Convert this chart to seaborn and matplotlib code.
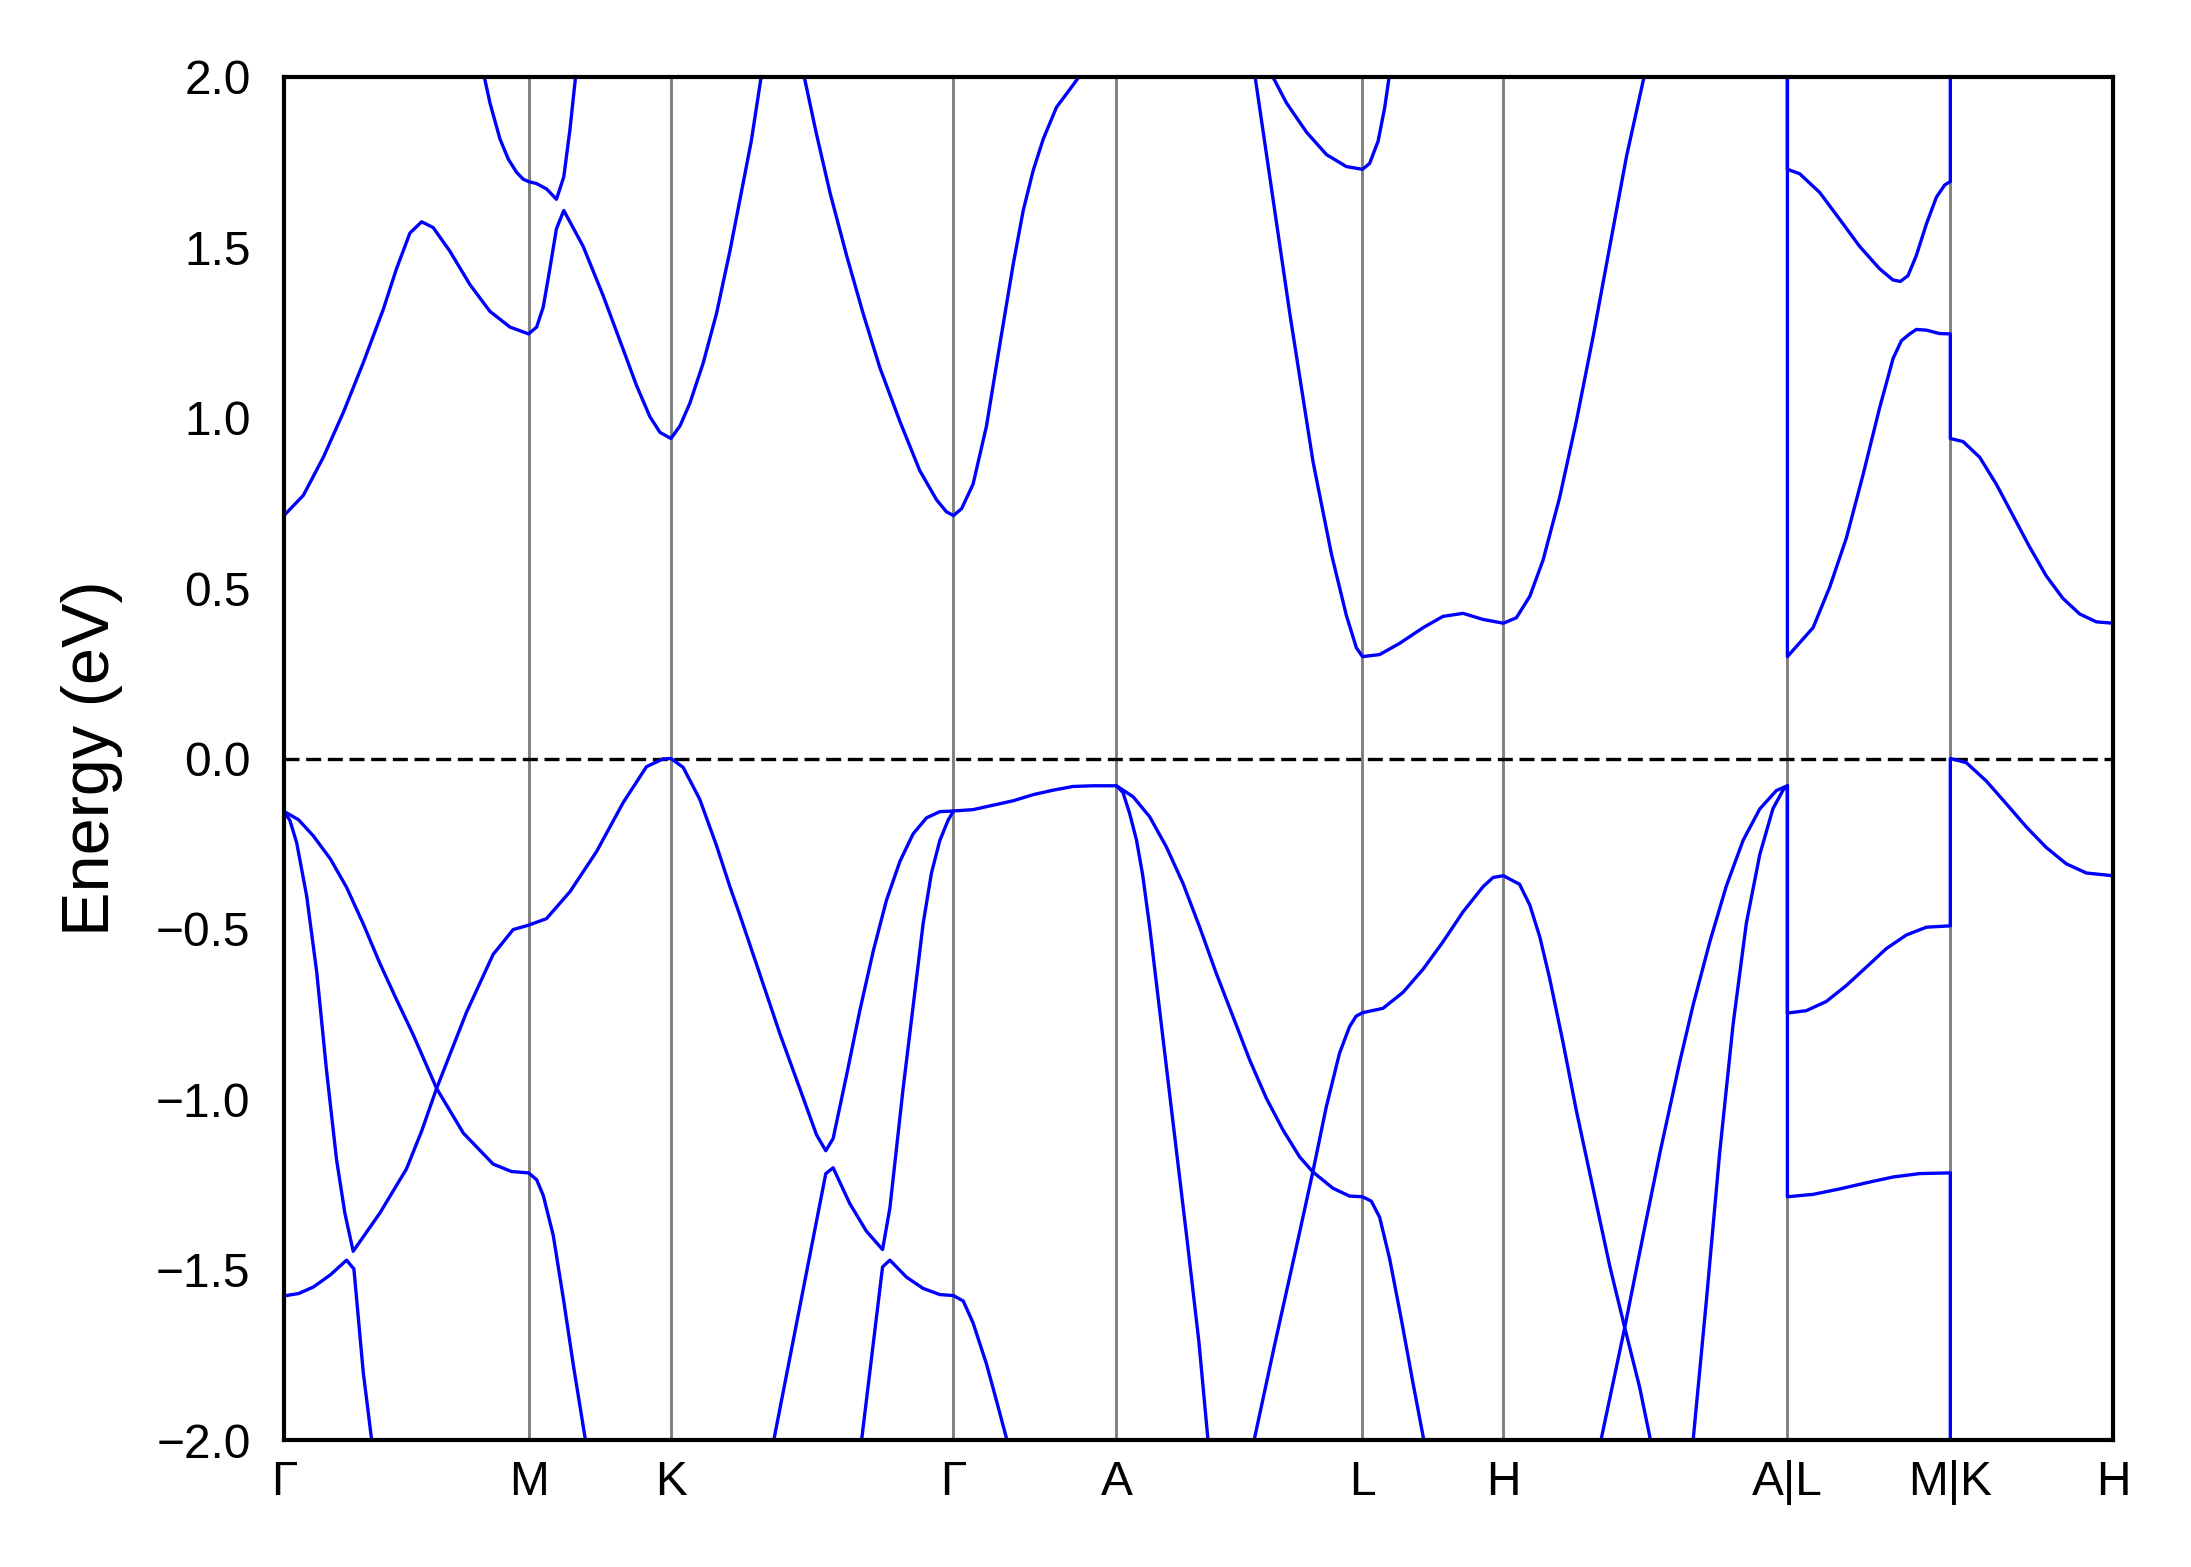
import pandas as pd
import matplotlib
matplotlib.use("Agg")
import matplotlib.pyplot as plt
import seaborn as sns

# high-symmetry points along the path
tick_k = [0.0, 1.0, 1.582, 2.737, 3.403, 4.409, 4.985, 6.146, 6.812, 7.477]
tick_labels = ["Γ", "M", "K", "Γ", "A", "L", "H", "A|L", "M|K", "H"]

# conduction bands
cb1_k = [0.0, 0.079, 0.161, 0.243, 0.324, 0.406, 0.460, 0.515, 0.563, 0.610, 0.678, 0.760, 0.842, 0.924, 1.0,
         1.033, 1.060, 1.087, 1.114, 1.144, 1.223, 1.305, 1.387, 1.441, 1.496, 1.537, 1.582,
         1.619, 1.659, 1.714, 1.768, 1.823, 1.864, 1.910, 1.955]
cb1_e = [0.713, 0.772, 0.884, 1.016, 1.161, 1.318, 1.437, 1.542, 1.575, 1.558, 1.489, 1.391, 1.312, 1.266, 1.246,
         1.266, 1.325, 1.437, 1.555, 1.608, 1.503, 1.358, 1.200, 1.095, 1.003, 0.957, 0.939,
         0.976, 1.042, 1.161, 1.305, 1.489, 1.640, 1.810, 2.02]

cb2_k = [0.813, 0.842, 0.883, 0.917, 0.951, 0.978, 1.0, 1.033, 1.074, 1.114, 1.144, 1.169, 1.195]
cb2_e = [2.02, 1.924, 1.818, 1.759, 1.720, 1.700, 1.693, 1.687, 1.671, 1.641, 1.707, 1.845, 2.02]

cb3_k = [2.121, 2.177, 2.232, 2.300, 2.368, 2.436, 2.518, 2.599, 2.668, 2.708, 2.737,
         2.770, 2.817, 2.872, 2.926, 2.981, 3.022, 3.063, 3.104, 3.158, 3.212, 3.270]
cb3_e = [2.02, 1.832, 1.661, 1.476, 1.305, 1.147, 0.989, 0.845, 0.759, 0.724, 0.713,
         0.733, 0.805, 0.976, 1.213, 1.450, 1.608, 1.726, 1.818, 1.911, 1.963, 2.02]

cb4_k = [3.966, 4.043, 4.112, 4.207, 4.282, 4.343, 4.384, 4.409, 4.479, 4.561, 4.657, 4.738, 4.820, 4.902, 4.985,
         5.038, 5.093, 5.147, 5.215, 5.283, 5.352, 5.420, 5.488, 5.566]
cb4_e = [2.02, 1.643, 1.305, 0.870, 0.600, 0.420, 0.325, 0.299, 0.305, 0.338, 0.384, 0.417, 0.426, 0.408, 0.397,
         0.413, 0.476, 0.582, 0.766, 0.989, 1.239, 1.503, 1.766, 2.02]

cb5_k = [4.028, 4.098, 4.180, 4.262, 4.343, 4.409, 4.438, 4.473, 4.500, 4.522]
cb5_e = [2.02, 1.924, 1.838, 1.772, 1.737, 1.729, 1.746, 1.812, 1.911, 2.02]

cb6_k = [6.146, 6.146, 6.251, 6.319, 6.387, 6.455, 6.523, 6.578, 6.612, 6.646, 6.673, 6.714, 6.768, 6.812,
         6.812, 6.864, 6.932, 7.000, 7.068, 7.136, 7.204, 7.272, 7.341, 7.409, 7.477]
cb6_e = [2.5, 0.299, 0.384, 0.503, 0.647, 0.832, 1.029, 1.174, 1.226, 1.246, 1.259, 1.257, 1.247, 1.246,
         0.939, 0.930, 0.884, 0.805, 0.713, 0.621, 0.536, 0.470, 0.424, 0.401, 0.397]

cb7_k = [6.146, 6.146, 6.196, 6.278, 6.360, 6.441, 6.523, 6.578, 6.608, 6.639, 6.673, 6.714, 6.755, 6.789, 6.812, 6.812]
cb7_e = [2.5, 1.729, 1.716, 1.661, 1.582, 1.503, 1.437, 1.404, 1.400, 1.417, 1.476, 1.568, 1.647, 1.683, 1.693, 2.5]

# valence bands
vb1_k = [0.0, 0.060, 0.120, 0.190, 0.256, 0.324, 0.392, 0.460, 0.528, 0.624, 0.733, 0.855, 0.930, 1.0,
         1.033, 1.060, 1.101, 1.142, 1.183, 1.237]
vb1_e = [-0.155, -0.180, -0.227, -0.295, -0.378, -0.485, -0.601, -0.707, -0.810, -0.968, -1.099, -1.190, -1.212, -1.216,
         -1.236, -1.282, -1.400, -1.584, -1.780, -2.02]

vb2_k = [0.0, 0.0245, 0.052, 0.093, 0.134, 0.174, 0.215, 0.249, 0.283,
         0.392, 0.501, 0.562, 0.624, 0.746, 0.855, 0.937, 1.0,
         1.073, 1.169, 1.278, 1.387, 1.482, 1.550, 1.582,
         1.632, 1.700, 1.768, 1.823, 1.864, 1.945, 2.027, 2.109, 2.177, 2.215,
         2.245, 2.300, 2.354, 2.409, 2.463, 2.518, 2.572, 2.627, 2.681, 2.737,
         2.817, 2.899, 2.981, 3.063, 3.144, 3.226, 3.308, 3.403,
         3.471, 3.539, 3.607, 3.675, 3.743, 3.811, 3.880, 3.948, 4.016, 4.084, 4.152, 4.206, 4.288, 4.356, 4.409,
         4.445, 4.479, 4.520, 4.567, 4.615, 4.665]
vb2_e = [-0.155, -0.182, -0.247, -0.404, -0.627, -0.915, -1.177, -1.334, -1.446,
         -1.334, -1.204, -1.095, -0.968, -0.745, -0.575, -0.502, -0.489,
         -0.470, -0.391, -0.273, -0.129, -0.024, -0.001, 0.0,
         -0.026, -0.120, -0.255, -0.376, -0.460, -0.632, -0.807, -0.969, -1.104, -1.151,
         -1.115, -0.929, -0.740, -0.565, -0.416, -0.302, -0.221, -0.174, -0.156, -0.154,
         -0.150, -0.137, -0.124, -0.106, -0.093, -0.082, -0.080, -0.080,
         -0.112, -0.171, -0.259, -0.366, -0.494, -0.630, -0.758, -0.885, -0.997, -1.090, -1.169, -1.213, -1.261, -1.284, -1.286,
         -1.299, -1.346, -1.468, -1.643, -1.831, -2.02]

vb3_k = [0.0, 0.060, 0.120, 0.190, 0.256, 0.286, 0.324, 0.362]
vb3_e = [-1.577, -1.570, -1.551, -1.515, -1.472, -1.498, -1.800, -2.02]

vb4_k = [1.997, 2.215, 2.245, 2.313, 2.381, 2.447, 2.477, 2.531, 2.572, 2.613, 2.647, 2.681, 2.715, 2.737]
vb4_e = [-2.02, -1.218, -1.201, -1.306, -1.387, -1.441, -1.319, -0.969, -0.727, -0.484, -0.336, -0.241, -0.181, -0.154]

vb5_k = [2.358, 2.447, 2.477, 2.545, 2.613, 2.681, 2.737, 2.777, 2.817, 2.872, 2.913, 2.963]
vb5_e = [-2.02, -1.492, -1.472, -1.522, -1.555, -1.573, -1.576, -1.592, -1.656, -1.777, -1.885, -2.02]

vb6_k = [3.403, 3.430, 3.457, 3.485, 3.510, 3.539, 3.580, 3.621, 3.662, 3.692, 3.740, 3.780]
vb6_e = [-0.080, -0.100, -0.161, -0.239, -0.340, -0.494, -0.740, -0.987, -1.233, -1.413, -1.710, -2.02]

vb7_k = [3.960, 4.050, 4.145, 4.206, 4.261, 4.315, 4.356, 4.383, 4.409,
         4.493, 4.575, 4.657, 4.738, 4.820, 4.902, 4.943, 4.985,
         5.051, 5.093, 5.134, 5.174, 5.229, 5.284, 5.351, 5.420, 5.481, 5.542, 5.592]
vb7_e = [-2.02, -1.720, -1.413, -1.213, -1.022, -0.865, -0.787, -0.756, -0.746,
         -0.733, -0.686, -0.618, -0.538, -0.450, -0.376, -0.349, -0.344,
         -0.369, -0.430, -0.524, -0.645, -0.834, -1.036, -1.260, -1.490, -1.670, -1.845, -2.02]

vb8_k = [5.378, 5.481, 5.556, 5.624, 5.706, 5.760, 5.828, 5.896, 5.965, 6.033, 6.101, 6.146]
vb8_e = [-2.02, -1.670, -1.400, -1.160, -0.890, -0.725, -0.540, -0.375, -0.240, -0.148, -0.094, -0.080]

vb9_k = [5.758, 5.815, 5.869, 5.924, 5.978, 6.033, 6.087, 6.128, 6.146]
vb9_e = [-2.02, -1.589, -1.158, -0.780, -0.484, -0.282, -0.147, -0.093, -0.080]

vb10_k = [6.146, 6.146, 6.223, 6.305, 6.387, 6.469, 6.550, 6.632, 6.714, 6.812,
          6.812, 6.877, 6.959, 7.041, 7.123, 7.204, 7.286, 7.368, 7.477]
vb10_e = [-0.080, -0.747, -0.740, -0.713, -0.666, -0.612, -0.558, -0.518, -0.495, -0.491,
          0.0, -0.012, -0.066, -0.133, -0.201, -0.261, -0.309, -0.336, -0.344]

vb11_k = [6.146, 6.146, 6.251, 6.360, 6.469, 6.578, 6.687, 6.812, 6.812]
vb11_e = [-0.080, -1.286, -1.279, -1.263, -1.245, -1.228, -1.218, -1.216, -2.5]

bands = [(cb1_k, cb1_e), (cb2_k, cb2_e), (cb3_k, cb3_e), (cb4_k, cb4_e), (cb5_k, cb5_e),
         (cb6_k, cb6_e), (cb7_k, cb7_e),
         (vb1_k, vb1_e), (vb2_k, vb2_e), (vb3_k, vb3_e), (vb4_k, vb4_e), (vb5_k, vb5_e),
         (vb6_k, vb6_e), (vb7_k, vb7_e), (vb8_k, vb8_e), (vb9_k, vb9_e), (vb10_k, vb10_e), (vb11_k, vb11_e)]

rows = []
for i, (ks, es) in enumerate(bands):
    for k, e in zip(ks, es):
        rows.append({"band": i, "k": k, "E": e})
df = pd.DataFrame(rows)

sns.set_style("white")
plt.rcParams["font.family"] = ["Liberation Sans", "DejaVu Sans"]
plt.rcParams.update({"text.color": "black", "axes.labelcolor": "black",
                     "xtick.color": "black", "ytick.color": "black"})

fig = plt.figure(figsize=(2191 / 300, 1567 / 300), dpi=300)
ax = fig.add_axes([0.1296, 0.0810, 0.8348, 0.8699])

# high-symmetry lines and Fermi level
for k in tick_k[1:-1]:
    ax.axvline(k, color="gray", lw=0.7, zorder=1)
ax.axhline(0, color="black", ls=(0, (4.5, 2)), lw=0.8, zorder=1)

sns.lineplot(data=df, x="k", y="E", units="band", estimator=None, sort=False,
             color="blue", lw=0.8, ax=ax, zorder=2, legend=False)

ax.set_xlim(tick_k[0], tick_k[-1])
ax.set_ylim(-2.0, 2.0)
ax.set_xticks(tick_k)
ax.set_xticklabels(tick_labels)
ax.set_yticks([-2.0, -1.5, -1.0, -0.5, 0.0, 0.5, 1.0, 1.5, 2.0])
ax.set_yticklabels(["−2.0", "−1.5", "−1.0", "−0.5", "0.0", "0.5", "1.0", "1.5", "2.0"])
ax.tick_params(axis="x", length=0, pad=4.8, labelsize=11.5)
ax.tick_params(axis="y", direction="in", length=6, width=0.8, pad=8, labelsize=11.5)
ax.set_xlabel("")
ax.set_ylabel("Energy (eV)", fontsize=16, labelpad=8)
for s in ax.spines.values():
    s.set_visible(True)
    s.set_color("black")
    s.set_linewidth(1.0)

fig.savefig("out.png", dpi=300)
